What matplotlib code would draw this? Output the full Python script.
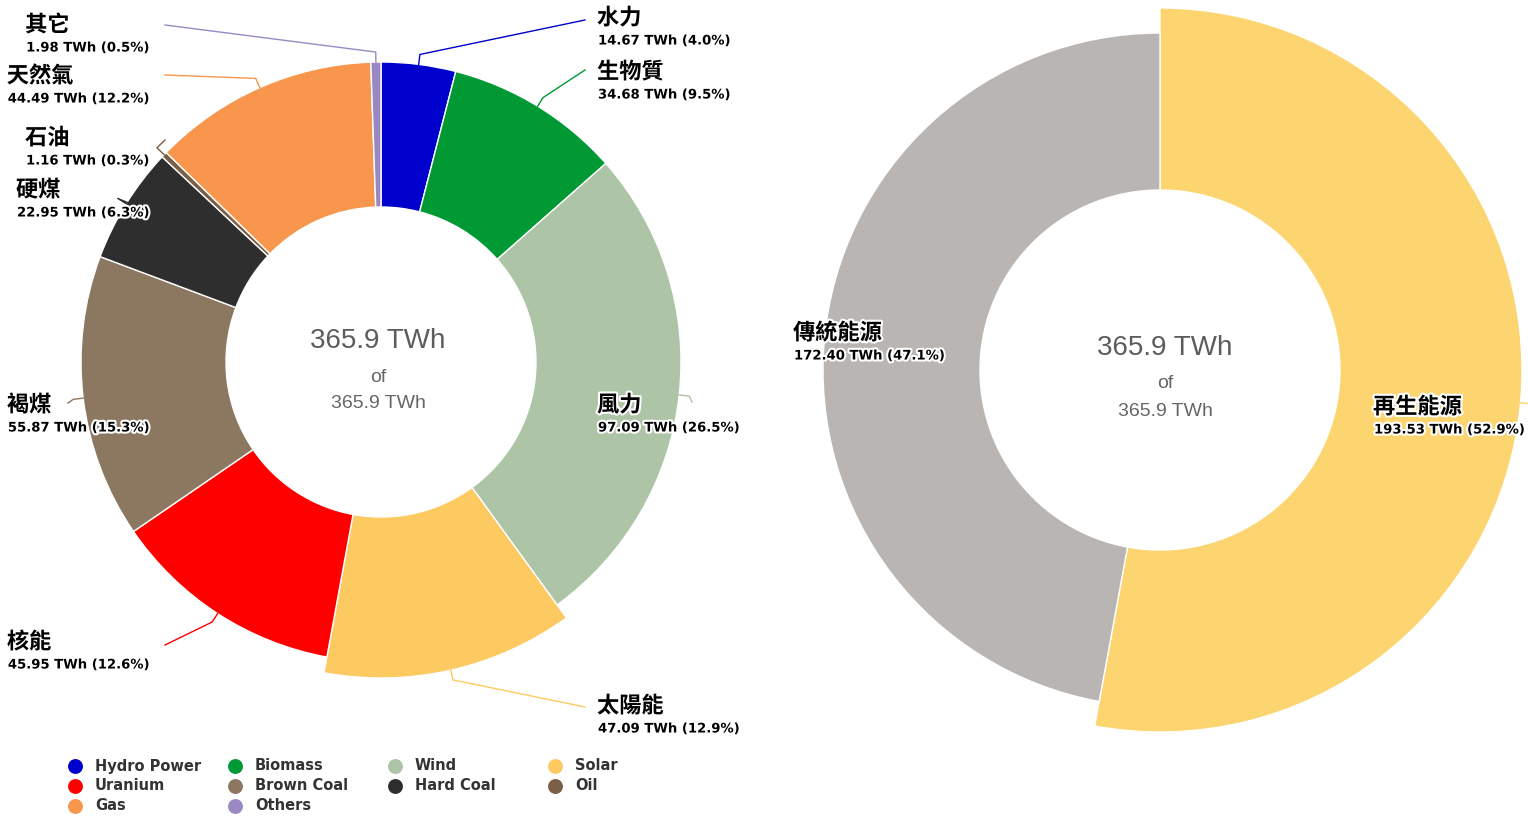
"""
Electricity generation donuts: by source (left), renewable vs conventional (right)
"""
import matplotlib
matplotlib.use('Agg')
import matplotlib.pyplot as plt
import matplotlib.patheffects as pe
import numpy as np

W, H = 1528, 816
CJK = ['Noto Sans CJK TC', 'DejaVu Sans']

# left donut: generation by source, TWh (clockwise from top)
source_names = ['水力', '生物質', '風力', '太陽能', '核能', '褐煤', '硬煤', '石油', '天然氣', '其它']
source_values = [14.67, 34.68, 97.09, 47.09, 45.95, 55.87, 22.95, 1.16, 44.49, 1.98]
source_colors = ['#0000cc', '#009933', '#adc4a6', '#fdca62', '#ff0000',
                 '#8c7761', '#2e2e2e', '#7a5f46', '#f7964c', '#9a88c2']
legend_labels = ['Hydro Power', 'Biomass', 'Wind', 'Solar', 'Uranium',
                 'Brown Coal', 'Hard Coal', 'Oil', 'Gas', 'Others']

# right donut: renewable vs conventional, TWh
group_names = ['再生能源', '傳統能源']
group_values = [193.53, 172.40]
group_colors = ['#fcd571', '#b9b5b2']

halo = [pe.withStroke(linewidth=3, foreground='white')]


def donut(ax, values, colors, center, radius, hole, big=None, big_radius=None):
    """Draw a clockwise donut; optionally enlarge one slice (hover look)"""
    wedges, _ = ax.pie(values, colors=colors, startangle=90, counterclock=False,
                       radius=radius, center=(center[0], H - center[1]),
                       wedgeprops=dict(width=radius - hole, edgecolor='white', linewidth=1))
    if big is not None:
        wedges[big].set_radius(big_radius)
        wedges[big].set_width(big_radius - hole)
    return wedges


def edge_point(wedge, extra=0):
    """Point on the outer edge of a wedge at its mid angle"""
    a = np.deg2rad((wedge.theta1 + wedge.theta2) / 2)
    r = wedge.r + extra
    cx, cy = wedge.center
    return cx + r * np.cos(a), cy + r * np.sin(a)


def connector(ax, wedge, end, color):
    x0, y0 = edge_point(wedge)
    x1, y1 = edge_point(wedge, 10)
    ax.plot([x0, x1, end[0]], [y0, y1, H - end[1]], color=color, lw=1, zorder=3)


def label(ax, renderer, name, value, total, x, y, align):
    """Name (large) above value line; block left- or right-aligned at x"""
    text = f"{value:.2f} TWh ({value / total * 100:.1f}%)"
    vt = ax.text(x, H - (y + 23), text, ha=align, va='center', fontsize=9.5,
                 fontweight='bold', family='DejaVu Sans', color='black',
                 path_effects=halo, zorder=6)
    nx = x
    if align == 'right':
        bb = vt.get_window_extent(renderer).transformed(ax.transData.inverted())
        nx = bb.x0
    ax.text(nx - 1, H - y, name, ha='left', va='center', fontsize=16,
            fontweight='bold', family=CJK, color='black', path_effects=halo, zorder=6)


def center_text(ax, x, y, total):
    s = f"{total:.1f} TWh"
    ax.text(x, H - y, s, ha='center', va='center', fontsize=20,
            family='Liberation Sans', color='#5c5c5c')
    ax.text(x, H - (y + 36), 'of', ha='center', va='center', fontsize=14,
            family='Liberation Sans', color='#666666')
    ax.text(x, H - (y + 63), s, ha='center', va='center', fontsize=14,
            family='Liberation Sans', color='#666666')


fig = plt.figure(figsize=(W / 100, H / 100), dpi=100)
ax = fig.add_axes([0, 0, 1, 1])
renderer = fig.canvas.get_renderer()

left = donut(ax, source_values, source_colors, (381, 362), 300, 155,
             big=3, big_radius=316)
right = donut(ax, group_values, group_colors, (1160, 370), 337, 180,
              big=0, big_radius=362)

# pie() resets the limits, so fix the pixel frame before measuring text
ax.set_xlim(0, W)
ax.set_ylim(0, H)
ax.set_aspect('auto')
ax.axis('off')

# left donut labels
total = sum(source_values)
left_label_x = [598, 598, 598, 598, 150, 150, 150, 150, 150, 150]
left_label_y = [18, 72, 405, 706, 642, 405, 190, 138, 76, 25]
left_conn = [(585, 20), (585, 70), (692, 402), (585, 707), (165, 645),
             (68, 403), (150, 212), (165, 140), (165, 75), (165, 25)]

for i, w in enumerate(left):
    connector(ax, w, left_conn[i], source_colors[i])
    align = 'left' if left_label_x[i] > 381 else 'right'
    label(ax, renderer, source_names[i], source_values[i], total,
          left_label_x[i], left_label_y[i], align)

center_text(ax, 378, 341, total)

# right donut labels
gtotal = sum(group_values)
right_label_x = [1374, 794]
right_label_y = [407, 333]
right_conn = [(1532, 401), (812, 337)]
for i, w in enumerate(right):
    connector(ax, w, right_conn[i], group_colors[i])
    label(ax, renderer, group_names[i], group_values[i], gtotal,
          right_label_x[i], right_label_y[i], 'left')

center_text(ax, 1165, 348, gtotal)

# legend (row-wise, 4 columns)
for i, (lab, col) in enumerate(zip(legend_labels, source_colors)):
    r, c = divmod(i, 4)
    x = 75 + 160 * c
    y = 766 + 20 * r
    ax.scatter(x, H - y, s=115, color=col, zorder=5, linewidths=0)
    ax.text(x + 20, H - y, lab, va='center', ha='left', fontsize=10.5,
            fontweight='bold', color='#333333', family='DejaVu Sans')

fig.savefig('out.png', dpi=100)
